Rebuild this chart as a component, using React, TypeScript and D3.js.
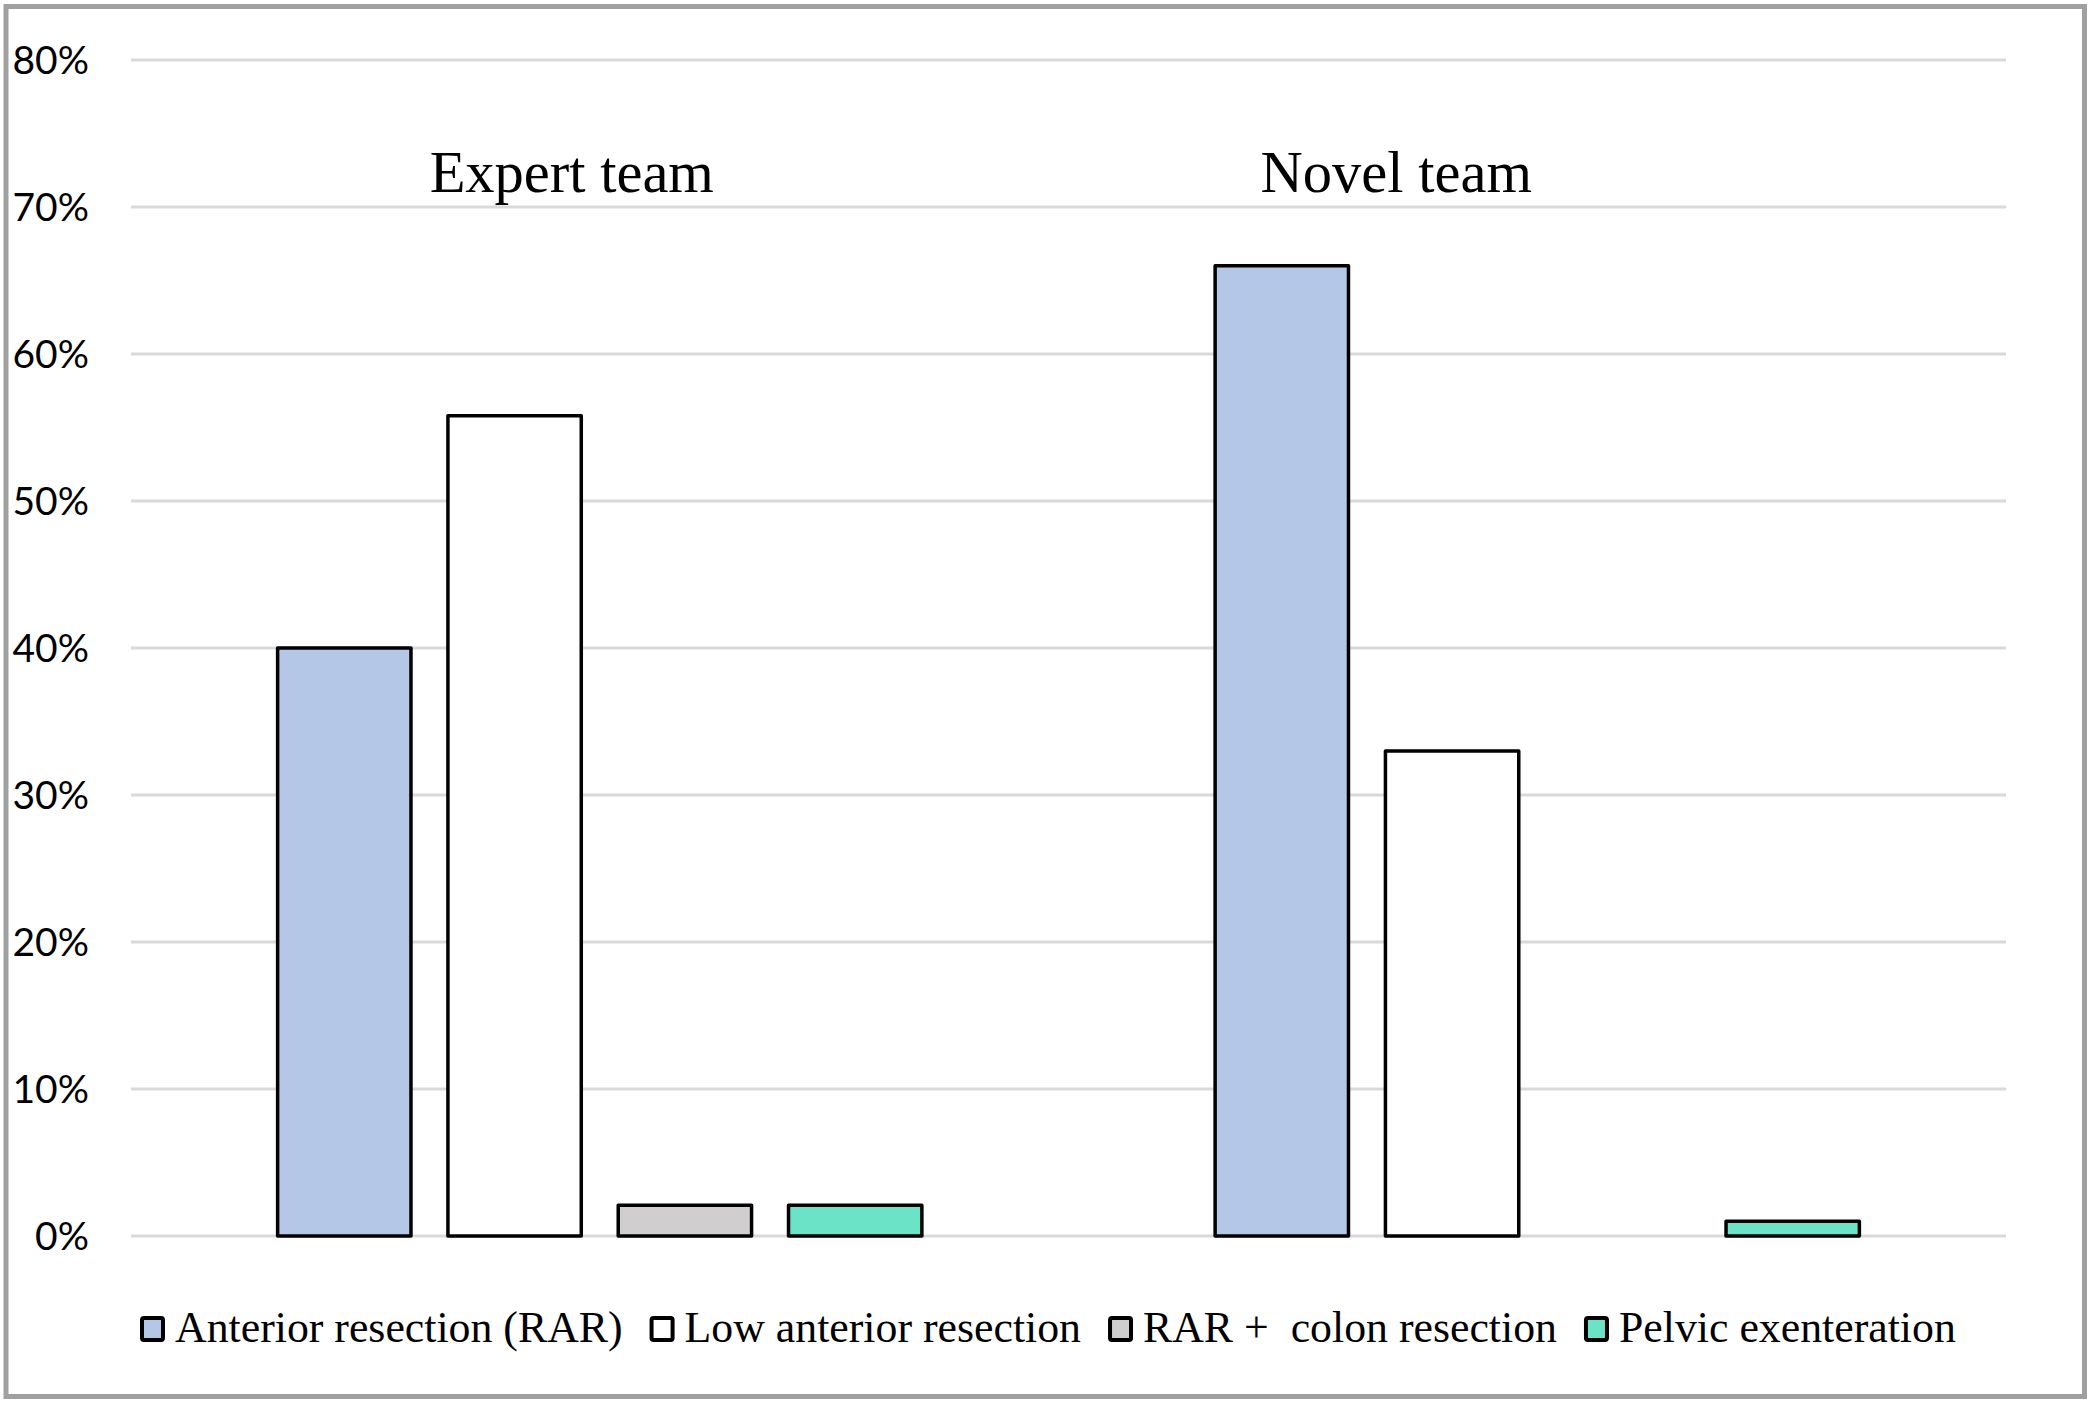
import React, { useEffect, useRef } from "react";
import * as d3 from "d3";

const groups = ["Expert team", "Novel team"];
const series = [
  "Anterior resection (RAR)",
  "Low anterior resection",
  "RAR +  colon resection",
  "Pelvic exenteration",
];
const expertValues = [0.40, 0.558, 0.021, 0.021];
const novelValues = [0.66, 0.33, 0, 0.01];
const seriesColors = ["#B4C7E7", "#FFFFFF", "#D0CECE", "#6BE3C7"];
const yTicks = [0, 0.1, 0.2, 0.3, 0.4, 0.5, 0.6, 0.7, 0.8];
const groupLabelDx = [-28, -141];
const groupLabelValue = 0.7105;

const W = 2091;
const H = 1404;

export default function App() {
  const ref = useRef<SVGSVGElement | null>(null);

  useEffect(() => {
    document.body.style.margin = "0";
    const svg = d3.select(ref.current);
    svg.selectAll("*").remove();

    const left = 131, right = 2006, top = 60, bottom = 1236;
    const y = d3.scaleLinear().domain([0, 0.8]).range([bottom, top]);
    const x0 = d3.scaleBand<string>().domain(groups).range([left, right]).padding(0);
    const x1 = d3
      .scaleBand<string>()
      .domain(series)
      .range([0, x0.bandwidth()])
      .paddingInner(0.217)
      .paddingOuter(0.861);

    // frame
    svg
      .append("rect")
      .attr("x", 6)
      .attr("y", 6.5)
      .attr("width", 2078.5)
      .attr("height", 1390)
      .attr("fill", "#fff")
      .attr("stroke", "#A0A0A0")
      .attr("stroke-width", 5);

    // gridlines
    svg
      .append("g")
      .selectAll("line")
      .data(yTicks)
      .join("line")
      .attr("x1", left)
      .attr("x2", right)
      .attr("y1", (d) => y(d))
      .attr("y2", (d) => y(d))
      .attr("stroke", "#D9D9D9")
      .attr("stroke-width", 3);

    // tick labels
    svg
      .append("g")
      .selectAll("text")
      .data(yTicks)
      .join("text")
      .attr("x", 89)
      .attr("y", (d) => y(d) + 13.5)
      .attr("text-anchor", "end")
      .attr("font-family", "Lato, 'Liberation Sans', sans-serif")
      .attr("font-size", 39)
      .attr("fill", "#000")
      .text((d) => d3.format(".0%")(d));

    const data = groups.map((g, gi) => ({
      group: g,
      values: (gi === 0 ? expertValues : novelValues).map((v, si) => ({
        series: series[si],
        value: v,
        color: seriesColors[si],
      })),
    }));

    const gGroups = svg
      .append("g")
      .selectAll("g")
      .data(data)
      .join("g")
      .attr("transform", (d) => `translate(${x0(d.group)},0)`);

    gGroups
      .selectAll("rect")
      .data((d) => d.values.filter((v) => v.value > 0))
      .join("rect")
      .attr("x", (d) => x1(d.series)!)
      .attr("y", (d) => y(d.value))
      .attr("width", x1.bandwidth())
      .attr("height", (d) => y(0) - y(d.value))
      .attr("fill", (d) => d.color)
      .attr("stroke", "#000")
      .attr("stroke-width", 3.5)
      .attr("stroke-linejoin", "round");

    // group labels
    svg
      .append("g")
      .selectAll("text")
      .data(groups)
      .join("text")
      .attr("x", (d, i) => x0(d)! + x0.bandwidth() / 2 + groupLabelDx[i])
      .attr("y", y(groupLabelValue))
      .attr("text-anchor", "middle")
      .attr("font-family", "'Liberation Serif', 'Times New Roman', serif")
      .attr("font-size", 58.5)
      .attr("fill", "#000")
      .text((d) => d);

    // legend
    const legend = svg.append("g");
    let cx = 140;
    series.forEach((s, i) => {
      legend
        .append("rect")
        .attr("x", cx + 2)
        .attr("y", 1318)
        .attr("width", 21)
        .attr("height", 22)
        .attr("rx", 2)
        .attr("fill", seriesColors[i])
        .attr("stroke", "#000")
        .attr("stroke-width", 4);
      const t = legend
        .append("text")
        .attr("x", cx + 35)
        .attr("y", 1342)
        .attr("font-family", "'Liberation Serif', 'Times New Roman', serif")
        .attr("font-size", 43.8)
        .attr("fill", "#000")
        .style("white-space", "pre")
        .attr("xml:space", "preserve")
        .text(s);
      const w = (t.node() as SVGTextElement).getComputedTextLength();
      cx = cx + 35 + w + 27;
    });
  }, []);

  return (
    <svg
      ref={ref}
      width={W}
      height={H}
      style={{ position: "absolute", left: 0, top: 0, background: "#fff" }}
    />
  );
}
